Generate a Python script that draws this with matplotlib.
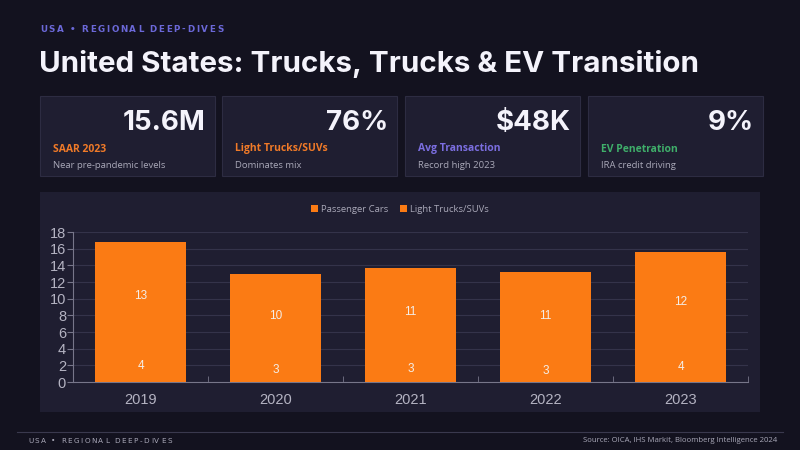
import numpy as np
import matplotlib.pyplot as plt
from matplotlib.patches import Rectangle

years = ['2019', '2020', '2021', '2022', '2023']
passenger_cars = [3.8, 2.8, 3.0, 2.6, 3.6]
light_trucks = [13.0, 10.2, 10.7, 10.6, 12.0]

kpi_values = ['15.6M', '76%', '$48K', '9%']
kpi_labels = ['SAAR 2023', 'Light Trucks/SUVs', 'Avg Transaction', 'EV Penetration']
kpi_notes = ['Near pre-pandemic levels', 'Dominates mix', 'Record high 2023', 'IRA credit driving']
kpi_colors = ['#f07a28', '#f07a28', '#7b6ee0', '#3fae6a']

BG = '#13121f'
PANEL = '#1f1e31'
ORANGE = '#fb7b14'
W, H = 800, 450

fig = plt.figure(figsize=(8, 4.5), dpi=100, facecolor=BG)


def fx(x):
    return x / W


def fy(y):
    return 1 - y / H


def spaced(x, y, s, size, color, gap, weight='normal'):
    # draw characters one by one to fake letter spacing
    r = fig.canvas.get_renderer()
    for ch in s:
        if ch == ' ':
            x += size * 0.45 + gap
            continue
        t = fig.text(fx(x), fy(y), ch, fontsize=size, color=color, va='center',
                     fontweight=weight, family='DejaVu Sans')
        bb = t.get_window_extent(renderer=r)
        x += bb.width + gap


spaced(40, 29, 'USA • REGIONAL DEEP-DIVES', 6.3, '#6b68d8', 1.7, weight='bold')
fig.text(fx(39), fy(64), 'United States: Trucks, Trucks & EV Transition', fontsize=21.3,
         fontweight='bold', color='#f4f3fb', va='center', family='Inter')

# KPI cards
card_x = [40, 222, 405, 588]
for i in range(4):
    x0 = card_x[i]
    fig.patches.append(Rectangle((fx(x0), fy(176)), fx(175), 80 / H, transform=fig.transFigure,
                                 facecolor=PANEL, edgecolor='#2d2c42', lw=0.8, zorder=-1))
    fig.text(fx(x0 + 166), fy(123), kpi_values[i], fontsize=20, fontweight='bold',
             color='#f4f3fb', ha='right', va='center', family='Inter')
    fig.text(fx(x0 + 13), fy(149), kpi_labels[i], fontsize=7.5, fontweight='bold',
             color=kpi_colors[i], va='center', family='Open Sans')
    fig.text(fx(x0 + 13), fy(166), kpi_notes[i], fontsize=6.8, color='#a9a8b8',
             va='center', family='Open Sans')

# chart panel
fig.patches.append(Rectangle((fx(40), fy(412)), fx(720), 220 / H, transform=fig.transFigure,
                             facecolor=PANEL, edgecolor='none', zorder=-1))

ax = fig.add_axes([fx(73), fy(382), fx(675), 150 / H])
ax.set_facecolor(PANEL)
x = np.arange(len(years))
ax.bar(x, passenger_cars, width=0.667, color=ORANGE, label='Passenger Cars', zorder=3)
ax.bar(x, light_trucks, width=0.667, bottom=passenger_cars, color=ORANGE,
       label='Light Trucks/SUVs', zorder=3)
for i in range(len(years)):
    ax.text(x[i], passenger_cars[i] / 2, f'{passenger_cars[i]:.0f}', ha='center', va='center',
            color='#f4eee8', fontsize=8.5, family='Liberation Sans', zorder=4)
    ax.text(x[i], passenger_cars[i] + light_trucks[i] / 2, f'{light_trucks[i]:.0f}',
            ha='center', va='center', color='#f4eee8', fontsize=8.5, family='Liberation Sans', zorder=4)

ax.set_xlim(-0.5, 4.5)
ax.set_ylim(0, 18)
ax.set_yticks(range(0, 19, 2))
ax.set_xticks(x)
ax.set_xticklabels(years)
ax.set_xticks(np.arange(-0.5, 5, 1), minor=True)
ax.tick_params(axis='x', which='major', length=0, colors='#b4b3c2', labelsize=10.5, pad=8)
ax.tick_params(axis='x', which='minor', length=4, direction='in', color='#77768a')
ax.tick_params(axis='y', length=4, color='#77768a', labelcolor='#b4b3c2', labelsize=10.5, pad=1)
for lab in ax.get_xticklabels() + ax.get_yticklabels():
    lab.set_family('Liberation Sans')
ax.grid(axis='y', color='#34334a', lw=0.8, zorder=0)
for s in ['top', 'right']:
    ax.spines[s].set_visible(False)
ax.spines['left'].set_color('#77768a')
ax.spines['bottom'].set_color('#77768a')

fig.legend(loc='center', bbox_to_anchor=(fx(400), fy(209)), ncol=2, frameon=False,
           labelcolor='#a9a8b8', handlelength=0.7, handleheight=0.7,
           handletextpad=0.4, columnspacing=1.2, prop={'family': 'Open Sans', 'size': 6.8})

# footer
fig.add_artist(plt.Line2D([fx(17), fx(783)], [fy(432), fy(432)], color='#3a394e', lw=0.8))
spaced(28, 441, 'USA • REGIONAL DEEP-DIVES', 5.2, '#a9a8b8', 1.5)
fig.text(fx(777), fy(441), 'Source: OICA, IHS Markit, Bloomberg Intelligence 2024', fontsize=5.6,
         color='#a9a8b8', ha='right', va='center', family='Open Sans')

fig.savefig('out.png', dpi=100, facecolor=BG)
